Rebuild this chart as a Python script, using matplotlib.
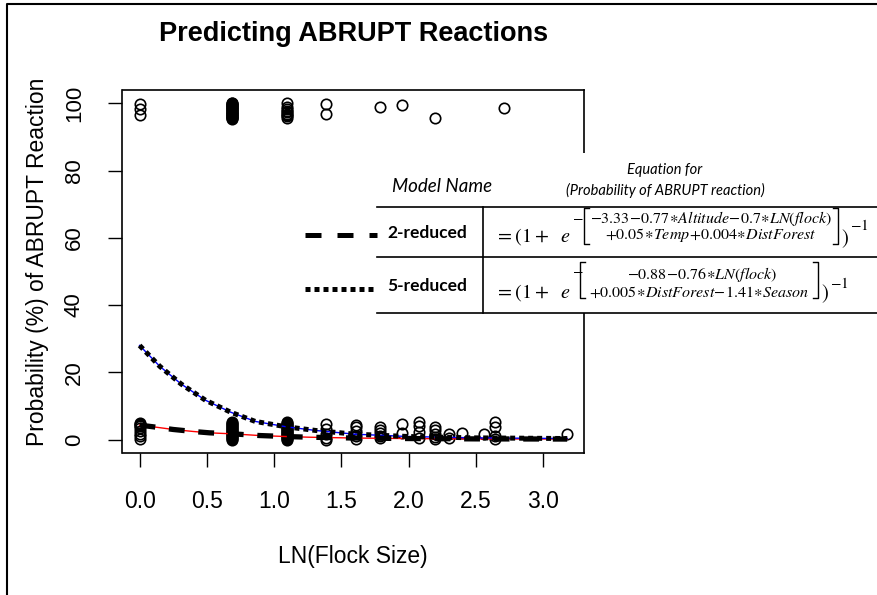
import numpy as np
import matplotlib
matplotlib.use("Agg")
import matplotlib.pyplot as plt
from matplotlib.lines import Line2D
from matplotlib.patches import Rectangle

plt.rcParams['mathtext.fontset'] = 'stix'

# observed reactions (jittered), top row = abrupt, bottom row = not abrupt
top_x = [0.0, 0.69, 1.10, 1.39, 1.79, 1.95, 2.20, 2.71]
top_y = [
    [99.8, 98.3, 96.6],
    [100.2, 100.0, 99.8, 99.6, 99.4, 99.2, 99.0, 98.8, 98.6, 98.4, 98.2, 98.0,
     97.8, 97.6, 97.4, 97.2, 97.0, 96.8, 96.6, 96.4, 96.2, 96.0, 95.8, 95.6, 95.5],
    [100.0, 98.8, 98.2, 97.8, 97.4, 97.0, 96.6, 96.2, 95.6],
    [99.8, 97.0],
    [98.9],
    [99.4],
    [95.6],
    [98.5],
]
bot_x = [0.0, 0.69, 1.10, 1.39, 1.61, 1.79, 1.95, 2.08, 2.20, 2.30, 2.40, 2.56, 2.64, 3.18]
bot_y = [
    [4.9, 4.6, 4.3, 4.0, 3.4, 2.6, 1.8, 1.0, 0.2],
    [5.3, 5.0, 4.7, 4.4, 4.1, 3.8, 3.5, 3.2, 2.9, 2.6, 2.3, 2.0, 1.7, 1.4,
     1.1, 0.8, 0.5, 0.2, -0.1],
    [5.3, 5.0, 4.7, 4.4, 4.1, 3.8, 3.5, 3.2, 2.9, 2.6, 2.3, 2.0, 1.7, 1.4,
     1.1, 0.8, 0.5, 0.2, -0.1],
    [4.6, 3.2, 1.8, 0.6, 0.0],
    [4.4, 3.6, 2.5, 1.2, 0.3],
    [3.6, 2.8, 1.9, 1.0, 0.4],
    [4.7, 2.0],
    [5.3, 4.1, 2.2, 0.6],
    [3.7, 2.8, 1.7, 0.8, 0.2],
    [1.6, 0.4],
    [1.9],
    [1.7],
    [5.1, 3.8, 1.1, 0.1],
    [1.8],
]

# fitted model curves
two_x = [0.0, 0.1, 0.25, 0.4, 0.52, 0.69, 0.89, 1.09, 1.26, 1.6, 2.0, 2.5, 3.18]
two_y = [4.3, 3.8, 3.0, 2.4, 2.0, 1.7, 1.2, 0.9, 0.7, 0.45, 0.3, 0.2, 0.15]
five_x = [0.0, 0.15, 0.31, 0.49, 0.68, 0.86, 1.09, 1.31, 1.6, 2.0, 2.5, 3.18]
five_y = [28.0, 21.8, 16.5, 11.7, 8.1, 5.4, 3.8, 2.7, 1.6, 0.9, 0.5, 0.3]

xticks = [0.0, 0.5, 1.0, 1.5, 2.0, 2.5, 3.0]
yticks = [0, 20, 40, 60, 80, 100]

W, H = 878, 595
fig = plt.figure(figsize=(W / 100, H / 100), dpi=100)


def fx(px):
    return px / W


def fy(py):
    return 1 - py / H


ax = fig.add_axes([fx(122.5), fy(453), fx(584) - fx(122.5), fy(90) - fy(453)])

for x, ys in zip(top_x + bot_x, top_y + bot_y):
    ax.plot([x] * len(ys), ys, 'o', mfc='none', mec='black', ms=7.5, mew=1.2)

ax.plot(two_x, two_y, color='red', lw=1)
ax.plot(five_x, five_y, color='blue', lw=1)
ax.plot(two_x, two_y, color='black', lw=3.8, dashes=(3, 2.6))
ax.plot(five_x, five_y, color='black', lw=3.6, dashes=(1, 0.8))

ax.set_xlim(-0.127, 3.305)
ax.set_ylim(-4, 104)
ax.set_xticks(xticks)
ax.set_yticks(yticks)
ax.set_xticklabels([f'{t:.1f}' for t in xticks],
                   family=['Liberation Sans Narrow', 'Liberation Sans'], fontsize=16.5)
ax.set_yticklabels([str(t) for t in yticks], family='Liberation Sans',
                   fontsize=16, rotation=90, va='center')
ax.tick_params(axis='x', length=10, width=1, pad=17)
ax.tick_params(axis='y', length=10, width=1, pad=17)
for s in ax.spines.values():
    s.set_linewidth(1.2)

fig.text(fx(38), fy(262), 'Probability (%) of ABRUPT Reaction', rotation=90,
         ha='center', va='center', family='Liberation Sans', fontsize=16.5)
fig.text(fx(353), fy(557), 'LN(Flock Size)', ha='center', va='center',
         family=['Liberation Sans Narrow', 'Liberation Sans'], fontsize=16.5)
fig.text(fx(354), fy(34), 'Predicting ABRUPT Reactions', ha='center', va='center',
         family='Liberation Sans', fontsize=19.5, weight='bold')

# figure frame (top and left edges)
fig.add_artist(Line2D([fx(7), fx(7), 1], [0, fy(4), fy(4)], color='black', lw=1.5))

# equation table pasted over the plot
fig.add_artist(Rectangle((fx(377), fy(313)), 1 - fx(377), fy(153) - fy(313),
                         facecolor='white', edgecolor='none'))


def hline(y, x0, x1, lw=1.2):
    fig.add_artist(Line2D([fx(x0), fx(x1)], [fy(y), fy(y)], color='black', lw=lw))


def vline(x, y0, y1, lw=1.2):
    fig.add_artist(Line2D([fx(x), fx(x)], [fy(y0), fy(y1)], color='black', lw=lw))


hline(207, 377, 878)
hline(257, 377, 878)
hline(313, 377, 878)
vline(483, 207, 313)

fig.text(fx(442), fy(187), 'Model Name', ha='center', va='center',
         family=['Lato', 'Open Sans'], style='italic', fontsize=13.5)
fig.text(fx(665), fy(170), 'Equation for', ha='center', va='center',
         family=['Lato', 'Open Sans'], style='italic', fontsize=10.5)
fig.text(fx(665), fy(190), '(Probability of ABRUPT reaction)', ha='center', va='center',
         family=['Lato', 'Open Sans'], style='italic', fontsize=10.5)

# legend keys
fig.add_artist(Line2D([fx(305), fx(377)], [fy(235), fy(235)], color='black',
                      lw=3.6, dashes=(3.2, 3.2)))
fig.add_artist(Line2D([fx(305), fx(377)], [fy(289), fy(289)], color='black',
                      lw=3.6, dashes=(1, 0.8)))
fig.text(fx(387), fy(233), '2-reduced', ha='left', va='center',
         family=['Lato', 'Open Sans'], weight='bold', fontsize=12.5)
fig.text(fx(387), fy(286), '5-reduced', ha='left', va='center',
         family=['Lato', 'Open Sans'], weight='bold', fontsize=12.5)

# equations
for yc in (237, 293):
    fig.text(fx(495), fy(yc), r'$=(1+\ \ e$', ha='left', va='center', fontsize=14.5)
fig.text(fx(572), fy(216), r'$-$', ha='left', va='center', fontsize=11)
fig.text(fx(572), fy(270), r'$-$', ha='left', va='center', fontsize=11)


def bracket(x, y0, y1, side):
    d = 5 if side == 'l' else -5
    fig.add_artist(Line2D([fx(x + d), fx(x), fx(x), fx(x + d)],
                          [fy(y0), fy(y0), fy(y1), fy(y1)], color='black', lw=1))


bracket(584, 208, 244, 'l')
bracket(838, 208, 244, 'r')
bracket(580, 262, 298, 'l')
bracket(818, 262, 298, 'r')

fig.text(fx(711), fy(218), r'$-3.33\!-\!0.77\!\ast\! Altitude\!-\!0.7\!\ast\! LN(flock)$',
         ha='center', va='center', fontsize=11.5)
fig.text(fx(711), fy(235), r'$+0.05\!\ast\! Temp\!+\!0.004\!\ast\! DistForest$',
         ha='center', va='center', fontsize=11.5)
fig.text(fx(702), fy(275), r'$-0.88\!-\!0.76\!\ast\! LN(flock)$',
         ha='center', va='center', fontsize=11.5)
fig.text(fx(699), fy(292), r'$+0.005\!\ast\! DistForest\!-\!1.41\!\ast\! Season$',
         ha='center', va='center', fontsize=11.5)

fig.text(fx(841), fy(239), r'$)$', ha='left', va='center', fontsize=15)
fig.text(fx(850), fy(226), r'$-1$', ha='left', va='center', fontsize=11)
fig.text(fx(821), fy(294), r'$)$', ha='left', va='center', fontsize=15)
fig.text(fx(830), fy(283), r'$-1$', ha='left', va='center', fontsize=11)

fig.savefig('out.png', dpi=100)
